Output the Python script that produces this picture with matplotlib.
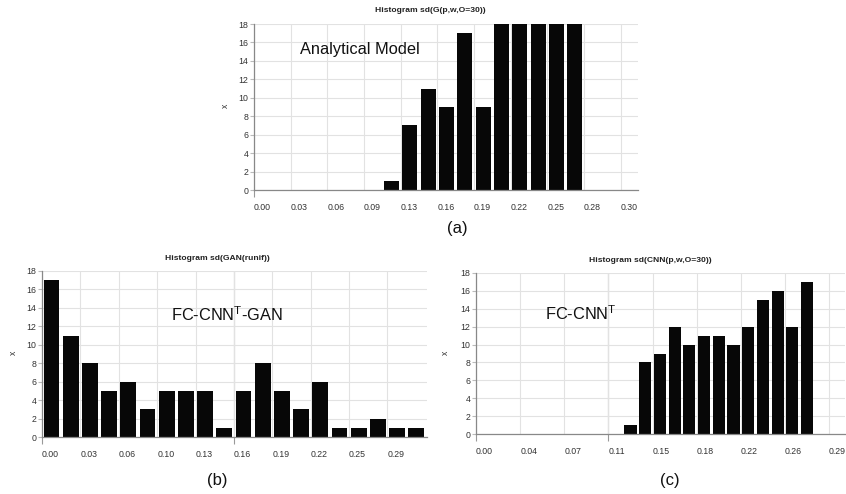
import matplotlib
matplotlib.use("Agg")
import matplotlib.pyplot as plt

plt.rcParams["font.family"] = ["Liberation Sans", "DejaVu Sans"]
plt.rcParams["mathtext.fontset"] = "custom"
plt.rcParams["mathtext.rm"] = "Liberation Sans"
plt.rcParams["mathtext.it"] = "Liberation Sans"

W, H = 846, 494

# (a) analytical model: 2 bins per gridline step, first bar in bin 7
a_counts = [1, 7, 11, 9, 17, 9, 18, 18, 18, 18, 18]
a_first_bin = 7
a_bins_per_grid = 2
a_ticks = ["0.00", "0.03", "0.06", "0.09", "0.13", "0.16", "0.19", "0.22", "0.25", "0.28", "0.30"]
a_title = "Histogram sd(G(p,w,O=30))"

# (b) GAN
b_counts = [17, 11, 8, 5, 6, 3, 5, 5, 5, 1, 5, 8, 5, 3, 6, 1, 1, 2, 1, 1]
b_first_bin = 0
b_bins_per_grid = 2
b_ticks = ["0.00", "0.03", "0.06", "0.10", "0.13", "0.16", "0.19", "0.22", "0.25", "0.29"]
b_title = "Histogram sd(GAN(runif))"

# (c) CNN: 3 bins per gridline step
c_counts = [1, 8, 9, 12, 10, 11, 11, 10, 12, 15, 16, 12, 17]
c_first_bin = 10
c_bins_per_grid = 3
c_ticks = ["0.00", "0.04", "0.07", "0.11", "0.15", "0.18", "0.22", "0.26", "0.29"]
c_title = "Histogram sd(CNN(p,w,O=30))"

fig = plt.figure(figsize=(W / 100, H / 100), dpi=100)


def px_axes(left, top, right, bottom):
    return fig.add_axes([left / W, 1 - bottom / H, (right - left) / W, (bottom - top) / H])


def ftext(x, y, s, **kw):
    fig.text(x / W, 1 - y / H, s, **kw)


def panel(ax, counts, first_bin, per_grid, ticks, xmax, dark_grid=None):
    width = 1.0 / per_grid
    xs = [(first_bin + i) * width + width / 2 for i in range(len(counts))]
    ax.bar(xs, counts, width=width * 0.82, color="#070707", zorder=3)
    ax.set_xlim(0, xmax)
    ax.set_ylim(0, 18)
    ax.set_yticks(range(0, 19, 2))
    ax.set_xticks(range(len(ticks)))
    ax.set_xticklabels(ticks, ha="left")
    ax.grid(True, color="#e2e2e2", lw=0.8, zorder=0)
    ax.tick_params(axis="y", length=3, width=0.8, color="#bbbbbb", pad=1,
                   labelsize=6.3, labelcolor="#333333")
    ax.tick_params(axis="x", length=5, width=0.8, color="#999999", pad=4,
                   labelsize=6.3, labelcolor="#333333")
    keep = {0} | ({dark_grid} if dark_grid is not None else set())
    for i, t in enumerate(ax.xaxis.get_major_ticks()):
        if i not in keep:
            t.tick1line.set_visible(False)
    if dark_grid is not None:
        ax.axvline(dark_grid, color="#999999", lw=0.8, zorder=1)
    for side in ("top", "right"):
        ax.spines[side].set_visible(False)
    ax.spines["left"].set_color("#888888")
    ax.spines["bottom"].set_color("#888888")
    ax.spines["left"].set_linewidth(0.9)
    ax.spines["bottom"].set_linewidth(0.9)
    ax.spines["bottom"].set_zorder(4)


ax_a = px_axes(254, 24, 638, 190)
panel(ax_a, a_counts, a_first_bin, a_bins_per_grid, a_ticks, 10.47)
ax_b = px_axes(42, 271, 427, 437)
panel(ax_b, b_counts, b_first_bin, b_bins_per_grid, b_ticks, 10.03, dark_grid=5)
ax_c = px_axes(476, 273, 845, 434)
panel(ax_c, c_counts, c_first_bin, c_bins_per_grid, c_ticks, 8.36, dark_grid=3)

title_kw = dict(ha="center", va="center", fontsize=6.1, fontweight="bold", color="#222222")
ftext(430, 11, a_title, **title_kw)
ftext(217, 259, b_title, **title_kw)
ftext(650, 260, c_title, **title_kw)

ylab_kw = dict(ha="center", va="center", rotation=90, fontsize=6.2, color="#333333")
ftext(225, 106, "x", **ylab_kw)
ftext(13, 353, "x", **ylab_kw)
ftext(445, 353, "x", **ylab_kw)

ann_kw = dict(ha="left", va="baseline", fontsize=11.8, color="#111111")
ftext(300, 54, "Analytical Model", **ann_kw)
ftext(171, 321, r"FC-CNN$^{\mathrm{T}}$-GAN", **ann_kw)
ftext(545, 320, r"FC-CNN$^{\mathrm{T}}$", **ann_kw)

lab_kw = dict(ha="center", va="center", fontsize=12, color="#111111")
ftext(457, 228, "(a)", **lab_kw)
ftext(217, 480, "(b)", **lab_kw)
ftext(670, 480, "(c)", **lab_kw)

fig.savefig("out.png", dpi=100)
